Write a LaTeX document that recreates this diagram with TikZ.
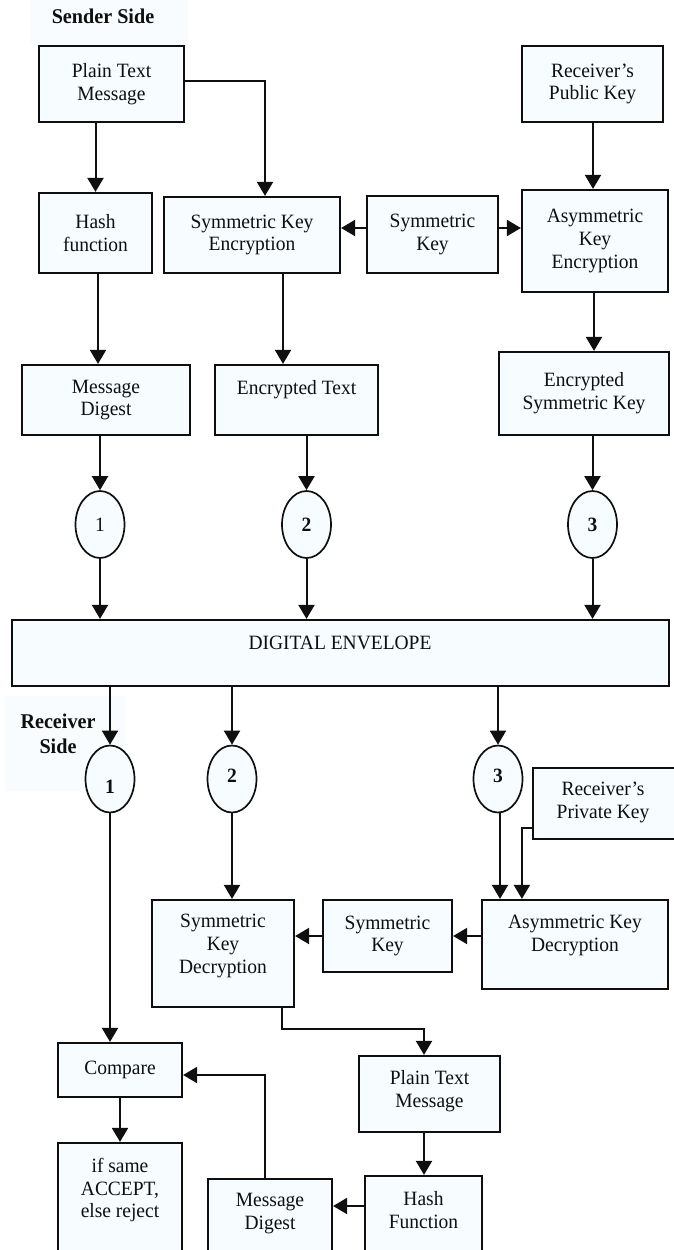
\documentclass[tikz,border=0pt]{standalone}
\usepackage{fontspec}
\setmainfont[FakeStretch=0.96]{Liberation Serif}
\usetikzlibrary{shapes.geometric,arrows.meta}
\definecolor{boxfill}{RGB}{246,252,255}
\definecolor{lblfill}{RGB}{248,252,254}
\definecolor{ink}{RGB}{15,15,15}
\tikzset{
  every node/.style={font=\fontsize{20.3}{22.8}\selectfont, text=ink},
  box/.style={draw=ink, line width=2.2pt, fill=boxfill, align=center, inner sep=0pt},
  oval/.style={draw=ink, line width=1.7pt, fill=boxfill, ellipse, minimum width=49pt, minimum height=67pt, inner sep=0pt, font=\fontsize{20.3}{22.8}\selectfont\bfseries},
  txt/.style={align=center, inner sep=0pt},
  side/.style={align=center, inner sep=0pt, font=\fontsize{21}{25}\selectfont\bfseries},
  sidebg/.style={fill=lblfill, draw=none, inner sep=0pt},
  arr/.style={draw=ink, line width=2pt, -{Triangle[length=14pt,width=16pt]}},
}
\newcommand{\bx}[6]{\node[box, minimum width=#4-#2, minimum height=#5-#3] (#1) at ({(#2+#4)/2},{(#3+#5)/2}) {#6};}
\begin{document}
\begin{tikzpicture}[x=1pt,y=-1pt]
\useasboundingbox (0,0) rectangle (673,1250);
% side labels
\node[sidebg, minimum width=158pt, minimum height=45pt] (sbg) at (109,22.5) {};
\node[side] (sender) at (103,16) {Sender Side};
\node[sidebg, minimum width=120pt, minimum height=95pt] (rbg) at (65,743) {};
\node[side] (receiver) at (58,734) {Receiver\\Side};
% sender boxes
\bx{ptm}{39}{46}{184}{122}{Plain Text\\Message}
\bx{hash}{39}{193}{152}{273}{Hash\\function}
\bx{ske}{164}{197}{340}{273}{Symmetric Key\\Encryption}
\bx{sk}{367}{196}{498}{273}{Symmetric\\Key}
\bx{rpk}{522}{46}{663}{122}{Receiver’s\\Public Key}
\bx{ake}{522}{190}{668}{292}{Asymmetric\\Key\\Encryption}
\bx{md}{22}{365}{190}{435}{Message\\Digest}
\bx{et}{215}{365}{378}{435}{}
\node[txt] (ett) at (296.5,390) {Encrypted Text};
\bx{esk}{499}{352}{669}{435}{Encrypted\\Symmetric Key}
% sender ovals
\node[oval, font=\fontsize{20.3}{22.8}\selectfont] (o1) at (100,524.5) {1};
\node[oval] (o2) at (306.5,524.5) {2};
\node[oval] (o3) at (592.5,524.5) {3};
% envelope
\bx{env}{12}{620}{669}{686}{}
\node[txt] (envt) at (340,643) {DIGITAL ENVELOPE};
% receiver ovals
\node[oval] (r1) at (110,779) {};
\node[txt, font=\fontsize{20.3}{22.8}\selectfont\bfseries] (r1t) at (110,787) {1};
\node[oval] (r2) at (232,779) {};
\node[txt, font=\fontsize{20.3}{22.8}\selectfont\bfseries] (r2t) at (232,776) {2};
\node[oval] (r3) at (498,779) {};
\node[txt, font=\fontsize{20.3}{22.8}\selectfont\bfseries] (r3t) at (498,776) {3};
% receiver boxes
\bx{rpk2}{533}{768}{676}{839}{}
\node[txt] (rpk2t) at (603,802.5) {Receiver’s\\Private Key};
\bx{skd}{152}{900}{294}{1007}{}
\node[txt] (skdt) at (223,946) {Symmetric\\Key\\Decryption};
\bx{srk}{323}{900}{452}{972}{Symmetric\\Key}
\bx{akd}{482}{900}{668}{989}{}
\node[txt] (akdt) at (575,935.5) {Asymmetric Key\\Decryption};
\bx{cmp}{58}{1043}{182}{1097}{Compare}
\bx{ifs}{58}{1143}{182}{1254}{}
\node[txt] (ifst) at (120,1190) {if same\\ACCEPT,\\else reject};
\bx{ptm2}{359}{1056}{500}{1132}{}
\node[txt] (ptm2t) at (429.5,1091) {Plain Text\\Message};
\bx{hf}{365}{1176}{482}{1254}{}
\node[txt] (hft) at (423.5,1210) {Hash\\Function};
\bx{md2}{208}{1179}{332}{1254}{}
\node[txt] (md2t) at (270,1213.5) {Message\\Digest};
% sender connectors
\draw[arr] (hash.north |- ptm.south) -- (hash.north);
\draw[arr] ([yshift=3pt]ptm.east) -| ([xshift=13pt]ske.north);
\draw[arr] ([yshift=6.5pt]sk.west) -- ([yshift=6.5pt]sk.west -| ske.east);
\draw[arr] ([yshift=6.5pt]sk.east) -- ([yshift=6.5pt]sk.east -| ake.west);
\draw[arr] ([xshift=0.5pt]rpk.south) -- ([xshift=0.5pt]rpk.south |- ake.north);
\draw[arr] ([xshift=2.5pt]hash.south) -- ([xshift=2.5pt]hash.south |- md.north);
\draw[arr] ([xshift=31pt]ske.south) -- ([xshift=31pt]ske.south |- et.north);
\draw[arr] ([xshift=-1pt]ake.south) -- ([xshift=-1pt]ake.south |- esk.north);
\draw[arr] (o1.north |- md.south) -- (o1.north);
\draw[arr] (o2.north |- et.south) -- (o2.north);
\draw[arr] (o3.north |- esk.south) -- (o3.north);
\draw[arr] (o1.south) -- (o1.south |- env.north);
\draw[arr] (o2.south) -- (o2.south |- env.north);
\draw[arr] (o3.south) -- (o3.south |- env.north);
% receiver connectors
\draw[arr] (r1.north |- env.south) -- (r1.north);
\draw[arr] (r2.north |- env.south) -- (r2.north);
\draw[arr] (r3.north |- env.south) -- (r3.north);
\draw[arr] (r2.south) -- (r2.south |- skd.north);
\draw[arr] ([xshift=2pt]r3.south) -- ([xshift=2pt]r3.south |- akd.north);
\draw[arr] ([yshift=-24pt]rpk2.west) -| ([xshift=41pt]akd.north west);
\draw[arr] ([yshift=8.5pt]akd.west) -- ([yshift=8.5pt]akd.west -| srk.east);
\draw[arr] ([yshift=0pt]srk.west) -- (srk.west -| skd.east);
\draw[arr] (r1.south) -- (r1.south |- cmp.north);
\coordinate (bend1) at ([xshift=-5.5pt, yshift=-21pt]ptm2.north |- skd.south);
\draw[arr] ([xshift=59pt]skd.south) |- (bend1) -- ([xshift=-5.5pt]ptm2.north);
\draw[arr] (cmp.south) -- (cmp.south |- ifs.north);
\draw[arr] ([xshift=-5.5pt]ptm2.south) -- ([xshift=-5.5pt]ptm2.south |- hf.north);
\draw[arr] ([yshift=9pt]hf.west) -- ([yshift=9pt]hf.west -| md2.east);
\coordinate (bend2) at ([xshift=-5pt]md2.north |- 0,1075);
\draw[arr] ([xshift=-5pt]md2.north) -- (bend2) -- (bend2 -| cmp.east);
\end{tikzpicture}
\end{document}
